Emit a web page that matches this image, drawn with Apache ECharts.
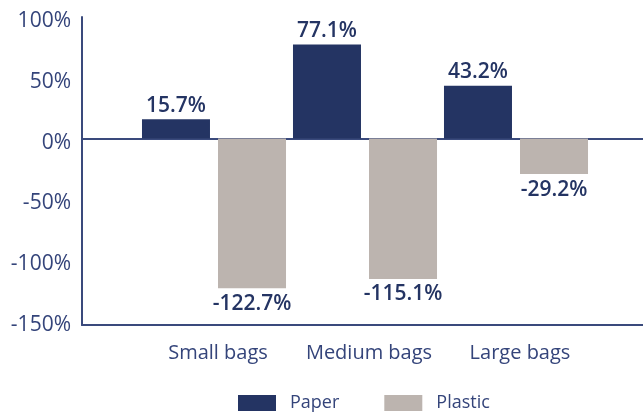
<!DOCTYPE html>
<html><head><meta charset="utf-8">
<script src="https://cdn.jsdelivr.net/npm/echarts@6/dist/echarts.min.js"></script>
<style>html,body{margin:0;padding:0;background:#fff}#c{width:643px;height:414px}</style>
</head><body><div id="c"></div>
<script>
const categories = ['Small bags', 'Medium bags', 'Large bags'];
const paper = [15.7, 77.1, 43.2];
const plastic = [-122.7, -115.1, -29.2];
const yTicks = { min: -150, max: 100, interval: 50 };

const NAVY = '#243463';
const GREY = '#BCB4AF';
const AXIS = '#3A4A7C';
const TXT = '#34447A';
const FONT = 'Open Sans';

const chart = echarts.init(document.getElementById('c'), null, { renderer: 'canvas' });
chart.setOption({
  animation: false,
  textStyle: { fontFamily: FONT },
  grid: [
    { left: 138.5, right: 51.5, top: 16.5, bottom: 92.5 },
    { left: 82, right: 0, top: 16.5, bottom: 92.5 },
    { left: 82, right: 0, top: 17, bottom: 89 },
    { left: 82, right: 0, top: 21, bottom: 89 }
  ],
  legend: {
    data: ['Paper', 'Plastic'],
    top: 389, left: 233,
    itemWidth: 38, itemHeight: 16, itemGap: 45,
    icon: 'rect',
    textStyle: { color: TXT, fontSize: 18, fontFamily: FONT, padding: [0, 0, 0, 9] }
  },
  xAxis: [
    { gridIndex: 0, type: 'category', data: categories,
      axisLine: { show: false }, axisTick: { show: false },
      axisLabel: { color: TXT, fontSize: 20, fontFamily: FONT, margin: 22, interval: 0,
        padding: [0, 0, 0, 8] } },
    { gridIndex: 1, type: 'value', min: 0, max: 1,
      axisLine: { show: true, onZero: true, lineStyle: { color: AXIS, width: 2 } },
      axisTick: { show: false }, axisLabel: { show: false }, splitLine: { show: false } },
    { gridIndex: 2, type: 'value', min: 0, max: 1,
      axisLine: { show: true, onZero: false, lineStyle: { color: AXIS, width: 2 } },
      axisTick: { show: false }, axisLabel: { show: false }, splitLine: { show: false } },
    { gridIndex: 3, type: 'value', min: 0, max: 1, show: false }
  ],
  yAxis: [
    { gridIndex: 0, type: 'value', min: yTicks.min, max: yTicks.max, interval: yTicks.interval,
      show: false, splitLine: { show: false } },
    { gridIndex: 1, type: 'value', min: yTicks.min, max: yTicks.max, interval: yTicks.interval,
      axisLine: { show: false }, axisTick: { show: false }, splitLine: { show: false },
      axisLabel: { show: false } },
    { gridIndex: 2, type: 'value', min: 0, max: 1,
      axisLine: { show: true, lineStyle: { color: AXIS, width: 2 } },
      axisTick: { show: false }, axisLabel: { show: false }, splitLine: { show: false } },
    { gridIndex: 3, type: 'value', min: yTicks.min, max: yTicks.max, interval: yTicks.interval,
      axisLine: { show: false }, axisTick: { show: false }, splitLine: { show: false },
      axisLabel: { color: TXT, fontSize: 21, fontFamily: FONT, margin: 11,
        formatter: v => v + '%' } }
  ],
  series: [
    { name: 'Paper', type: 'bar', xAxisIndex: 0, yAxisIndex: 0, data: paper,
      barWidth: 68, barGap: '11.8%', itemStyle: { color: NAVY },
      label: { show: true, position: 'top', distance: 3, color: NAVY, fontSize: 21,
        fontWeight: 600, fontFamily: FONT, formatter: p => p.value.toFixed(1) + '%' } },
    { name: 'Plastic', type: 'bar', xAxisIndex: 0, yAxisIndex: 0, data: plastic,
      barWidth: 68, barGap: '11.8%', itemStyle: { color: GREY },
      label: { show: true, position: 'bottom', distance: 5, color: NAVY, fontSize: 21,
        fontWeight: 600, fontFamily: FONT, formatter: p => p.value.toFixed(1) + '%' } }
  ]
});
</script></body></html>
